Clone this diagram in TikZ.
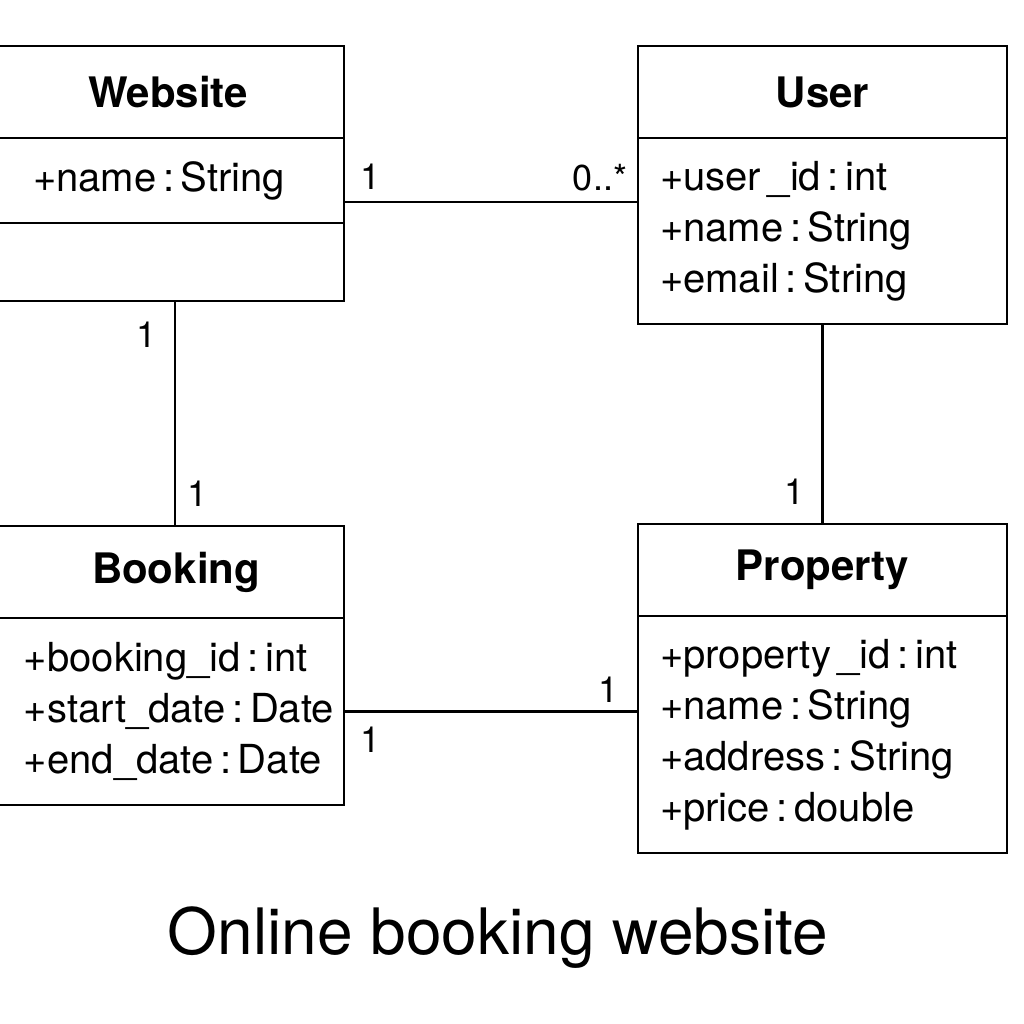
\documentclass[tikz,border=0pt]{standalone}
\usepackage{fontspec}
\setmainfont{TeX Gyre Heros}
\usetikzlibrary{positioning}

\begin{document}
\begin{tikzpicture}[x=0.5pt, y=-0.5pt, line width=1.45pt,
	every node/.style={outer sep=0pt},
	head/.style={draw, minimum height=46pt, font=\fontsize{21}{25}\selectfont\bfseries},
	attrs/.style={draw, align=left, font=\fontsize{20}{25.5}\selectfont},
	mult/.style={inner sep=0pt, font=\fontsize{18}{20}\selectfont}]
	\useasboundingbox (0,0) rectangle (1024,1024);
	% classes
	\node[head, minimum width=176pt, anchor=north west] (whead) at (-8,46) {Website};
	\node[attrs, inner xsep=20.5pt, text width=135pt, minimum height=42.5pt, below=0pt of whead] (wattr) {+name\,:\,String};
	\node[draw, minimum width=176pt, minimum height=39pt, below=0pt of wattr] (wmeth) {};

	\node[head, minimum width=184.5pt, anchor=north west] (uhead) at (638,46) {User};
	\node[attrs, inner xsep=11pt, text width=162.5pt, minimum height=93pt, below=0pt of uhead] (uattr)
		{+user\,\_id\,:\,int\\+name\,:\,String\\+email\,:\,String};

	\node[head, minimum width=176pt, anchor=north west] (bhead) at (-8,526) {\hspace*{8pt}Booking};
	\node[attrs, inner xsep=16pt, text width=144pt, minimum height=93.5pt, below=0pt of bhead] (battr)
		{+booking\_id\,:\,int\\+start\_date\,:\,Date\\+end\_date\,:\,Date};

	\node[head, minimum width=184.5pt, anchor=north west] (phead) at (638,524) {Property};
	\node[attrs, inner xsep=11pt, text width=162.5pt, minimum height=118.5pt, below=0pt of phead] (pattr)
		{+property\,\_id\,:\,int\\+name\,:\,String\\+address\,:\,String\\+price\,:\,double};

	% associations
	\draw (wattr.south east) ++(0,-21) coordinate (wu) -- (wu -| uattr.west);
	\draw (wmeth.south) ++(7,0) coordinate (wb) -- (wb |- bhead.north);
	\draw (uattr.south) -- (phead.north);
	\draw (battr.east) -- (battr.east -| pattr.west);

	% multiplicities
	\node[mult] (m1) at (371,177) {1};
	\node[mult] (m2) at (600,178) {0..*};
	\node[mult] (m3) at (147,335) {1};
	\node[mult] (m4) at (198,494) {1};
	\node[mult] (m5) at (795,492) {1};
	\node[mult] (m6) at (609,690) {1};
	\node[mult] (m7) at (371,740) {1};

	\node[font=\fontsize{32}{40}\selectfont] (title) at (498,938) {Online booking website};
\end{tikzpicture}
\end{document}
